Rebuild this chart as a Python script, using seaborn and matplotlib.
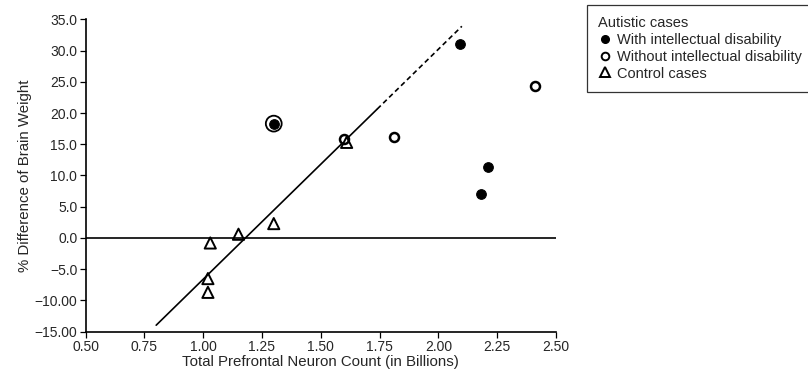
import matplotlib
matplotlib.use("Agg")
import matplotlib.pyplot as plt
import seaborn as sns
import numpy as np
import pandas as pd
from matplotlib.lines import Line2D

# autistic cases with intellectual disability
with_id_x = [1.30, 2.09, 2.21, 2.18]
with_id_y = [18.3, 31.1, 11.3, 7.1]
# autistic cases without intellectual disability
without_id_x = [1.60, 1.81, 2.41]
without_id_y = [15.9, 16.2, 24.3]
# control cases
control_x = [1.61, 1.30, 1.15, 1.03, 1.02, 1.02]
control_y = [15.3, 2.3, 0.6, -0.8, -6.5, -8.7]
# ringed case (index in with_id)
ringed = [0]

# regression line
fit_slope = 36.8
fit_intercept = -43.4
fit_solid_x = [0.80, 1.74]
fit_dash_x = [1.74, 2.10]

x_ticks = [0.50, 0.75, 1.00, 1.25, 1.50, 1.75, 2.00, 2.25, 2.50]
y_ticks = [35, 30, 25, 20, 15, 10, 5, 0, -5, -10, -15]
y_tick_labels = ["35.0", "30.0", "25.0", "20.0", "15.0", "10.0", "5.0", "0.0",
                 "\u22125.0", "\u221210.00", "\u221215.00"]

sns.set_style("ticks")
plt.rcParams['font.family'] = ['Liberation Sans', 'DejaVu Sans']

fig = plt.figure(figsize=(8.08, 3.78), dpi=100)
ax = fig.add_axes([0.106, 0.1225, 0.582, 0.8265])

ax.axhline(0, color="black", lw=1.2, zorder=1)

df_solid = pd.DataFrame({"x": fit_solid_x})
df_solid["y"] = fit_slope * df_solid["x"] + fit_intercept
df_dash = pd.DataFrame({"x": fit_dash_x})
df_dash["y"] = fit_slope * df_dash["x"] + fit_intercept
sns.lineplot(data=df_solid, x="x", y="y", color="black", lw=1.2, ax=ax)
sns.lineplot(data=df_dash, x="x", y="y", color="black", lw=1.2, ax=ax,
             linestyle=(0, (3, 2)))

sns.scatterplot(x=with_id_x, y=with_id_y, marker="o", color="black",
                s=48, edgecolor="black", linewidth=0.8, ax=ax, zorder=3)
sns.scatterplot(x=[with_id_x[i] for i in ringed], y=[with_id_y[i] for i in ringed],
                marker="o", facecolor="none", edgecolor="black", s=130,
                linewidth=1.3, ax=ax, zorder=3)
sns.scatterplot(x=without_id_x, y=without_id_y, marker="o", facecolor="white",
                edgecolor="black", s=42, linewidth=1.8, ax=ax, zorder=3)
sns.scatterplot(x=control_x, y=control_y, marker="^", facecolor="none",
                edgecolor="black", s=65, linewidth=1.4, ax=ax, zorder=3)

ax.set_xlim(0.5, 2.5)
ax.set_ylim(-15, 35)
ax.set_xticks(x_ticks)
ax.set_xticklabels([f"{v:.2f}" for v in x_ticks])
ax.set_yticks(y_ticks)
ax.set_yticklabels(y_tick_labels)
ax.tick_params(labelsize=10, length=4, width=0.9, color="black", pad=2)
for s in ["left", "bottom"]:
    ax.spines[s].set_linewidth(1.2)
    ax.spines[s].set_color("black")
sns.despine(ax=ax)

ax.set_xlabel("Total Prefrontal Neuron Count (in Billions)", fontsize=10.8, labelpad=1)
ax.set_ylabel("% Difference of Brain Weight", fontsize=10.8, labelpad=2)

handles = [
    Line2D([], [], linestyle="none", marker="o", color="black", markersize=5.5),
    Line2D([], [], linestyle="none", marker="o", markerfacecolor="white",
           markeredgecolor="black", markeredgewidth=1.4, markersize=5.5),
    Line2D([], [], linestyle="none", marker="^", markerfacecolor="none",
           markeredgecolor="black", markeredgewidth=1.4, markersize=6.5),
]
labels = ["With intellectual disability",
          "Without intellectual disability", "Control cases"]
leg = fig.legend(handles, labels, title="Autistic cases", alignment="left",
                 loc="upper left", bbox_to_anchor=(0.7265, 0.65, 0.35, 0.337),
                 mode="expand", fontsize=10.5, title_fontsize=10.5, frameon=True,
                 fancybox=False, edgecolor="black", handlelength=1.0,
                 handletextpad=0.3, labelspacing=0.2, borderpad=0.75,
                 borderaxespad=0)
leg.get_frame().set_linewidth(0.9)

fig.savefig("out.png", dpi=100)
